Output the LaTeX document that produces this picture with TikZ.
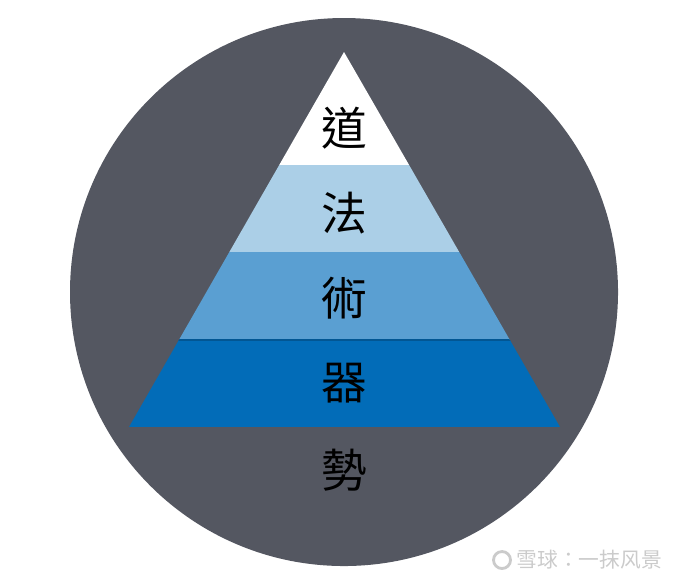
\documentclass[tikz,border=0pt]{standalone}
\usepackage{fontspec}
\newfontfamily\cjk{Noto Sans CJK TC}
\definecolor{circgray}{HTML}{545761}
\definecolor{bandlight}{HTML}{ABCFE7}
\definecolor{bandmid}{HTML}{5A9FD2}
\definecolor{banddark}{HTML}{026CB8}
\definecolor{markgray}{HTML}{CBCBCB}
\tikzset{
  level/.style={font=\cjk\fontsize{13}{13}\selectfont, text=black, inner sep=0pt}
}
\begin{document}
\begin{tikzpicture}[x=0.01cm,y=-0.01cm]
\useasboundingbox (0,0) rectangle (674,584);
% background disc
\fill[circgray] (344,292) circle (274);
% pyramid bands
\begin{scope}
\clip (344,52) -- (560,427) -- (129,427) -- cycle;
\fill[white] (100,40) rectangle (600,165);
\fill[bandlight] (100,165) rectangle (600,252);
\fill[bandmid] (100,252) rectangle (600,340);
\fill[banddark] (100,340) rectangle (600,427);
\draw[banddark!80!black, line width=0.3pt] (100,340) -- (600,340);
\end{scope}
% labels
\node[level] (dao) at (344,128) {道};
\node[level] (fa) at (344,213) {法};
\node[level] (shu) at (344,298) {術};
\node[level] (qi) at (344,383) {器};
\node[level] (shi) at (344,470) {勢};
% watermark
\draw[markgray, line width=0.8pt] (502,560) circle (8.5);
\node[text=markgray, font=\cjk\fontsize{5.9}{5.9}\selectfont, anchor=west, inner sep=0pt] (wm) at (516,560) {雪球：一抹风景};
\end{tikzpicture}
\end{document}
